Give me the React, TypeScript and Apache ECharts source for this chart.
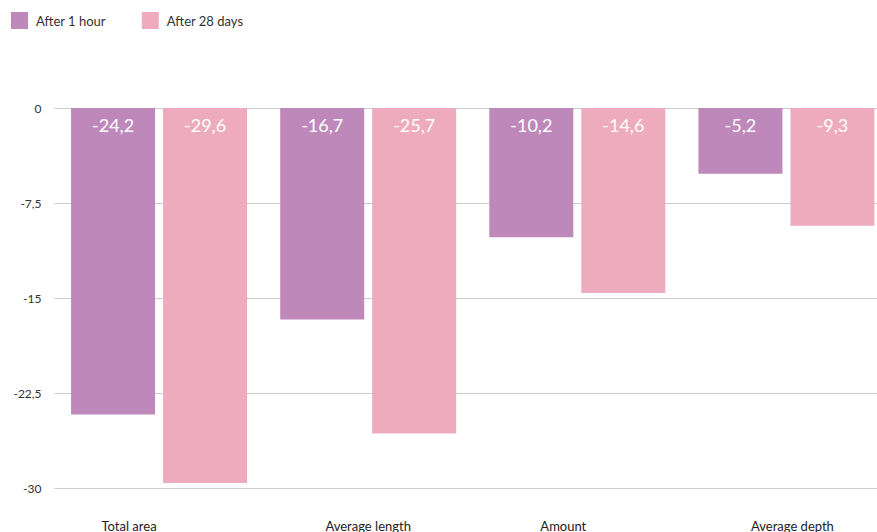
import React, { useEffect, useRef } from "react";
import * as echarts from "echarts";

const categories = ["Total area", "Average length", "Amount", "Average depth"];
const after1Hour = [-24.2, -16.7, -10.2, -5.2];
const after28Days = [-29.6, -25.7, -14.6, -9.3];
const seriesNames = ["After 1 hour", "After 28 days"];

const fmt = (v: number) => String(v).replace(".", ",");

export default function App() {
  const ref = useRef<HTMLDivElement>(null);
  useEffect(() => {
    document.body.style.margin = "0";
    document.body.style.overflow = "hidden";
    const chart = echarts.init(ref.current!, null, { renderer: "svg" });
    const font = "Lato, 'Open Sans', sans-serif";
    const label = {
      show: true,
      position: "insideTop",
      distance: 8,
      color: "#ffffff",
      fontSize: 18,
      fontFamily: font,
      formatter: (p: any) => fmt(p.value),
    };
    // label shifts (style only) to mimic the original's label placement
    const shifts = [-30, 0, -14, 6];
    const rich: Record<string, any> = {};
    shifts.forEach((s, i) => {
      rich["c" + i] = {
        fontSize: 13,
        color: "#222",
        fontFamily: font,
        padding: s < 0 ? [0, -2 * s, 0, 0] : [0, 0, 0, 2 * s],
      };
    });
    chart.setOption({
      animation: false,
      textStyle: { fontFamily: font },
      legend: {
        left: 6,
        top: 7,
        itemWidth: 17,
        itemHeight: 17,
        itemGap: 36,
        icon: "rect",
        textStyle: { fontSize: 13, color: "#333", fontFamily: font, padding: [0, 0, 0, 3] },
        data: seriesNames,
      },
      grid: { left: 54.5, top: 108, right: 0, bottom: 44, containLabel: false },
      xAxis: {
        type: "category",
        data: categories,
        position: "bottom",
        axisLine: { show: false, onZero: false },
        axisTick: { show: false },
        axisLabel: {
          margin: 31,
          fontSize: 13,
          color: "#222",
          fontFamily: font,
          formatter: (v: string) => {
            const i = categories.indexOf(v);
            return "{c" + i + "|" + v + "}";
          },
          rich,
        },
      },
      yAxis: {
        type: "value",
        min: -30,
        max: 0,
        interval: 7.5,
        axisLine: { show: false },
        axisTick: { show: false },
        splitLine: { lineStyle: { color: "#cccccc" } },
        axisLabel: {
          margin: 13,
          fontSize: 12,
          color: "#333",
          fontFamily: font,
          formatter: (v: number) => fmt(v),
        },
      },
      series: [
        {
          name: seriesNames[0],
          type: "bar",
          data: after1Hour,
          barWidth: 84,
          barGap: "9.5%",
          itemStyle: { color: "#be88bb" },
          label,
        },
        {
          name: seriesNames[1],
          type: "bar",
          data: after28Days,
          barWidth: 84,
          barGap: "9.5%",
          itemStyle: { color: "#eeabbd" },
          label,
        },
      ],
    });
    return () => chart.dispose();
  }, []);
  return (
    <div style={{ position: "absolute", left: 0, top: 0, width: 877, height: 532, overflow: "hidden" }}>
      <div ref={ref} style={{ width: 891, height: 532 }} />
    </div>
  );
}
